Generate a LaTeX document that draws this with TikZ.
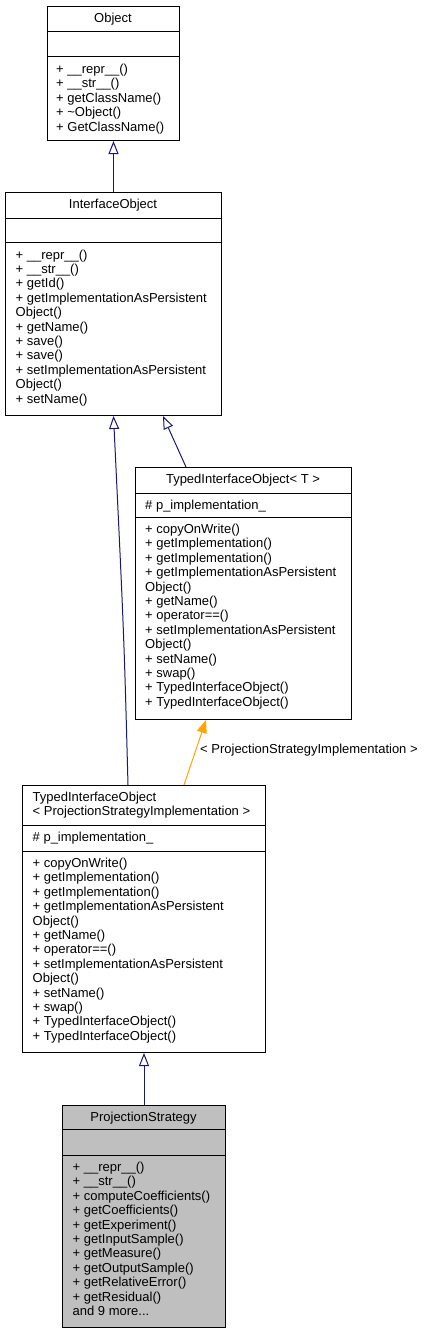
\documentclass[tikz,border=0pt]{standalone}
\usepackage{fontspec}
\setmainfont{Liberation Sans}
\usepackage{tikz}
\usetikzlibrary{arrows.meta,calc}
\definecolor{umlNavy}{HTML}{191970}
\definecolor{umlOrange}{HTML}{FFA500}
\definecolor{umlGray}{HTML}{BFBFBF}
\newcommand{\umlfont}{\fontsize{13}{14.4}\selectfont}
\tikzset{
  classbox/.style={draw=black,line width=1pt,anchor=north west,inner sep=0pt},
  divider/.style={draw=black,line width=1pt},
  member/.style={anchor=base west,inner sep=0pt,font=\umlfont},
  title/.style={anchor=base,inner sep=0pt,font=\umlfont},
  inherit/.style={-{Triangle[open,length=13pt,width=10pt]},line width=1pt,umlNavy},
  bind/.style={-{Triangle[length=13pt,width=10pt]},line width=1pt,umlOrange}
}
\begin{document}
\begin{tikzpicture}[x=1pt,y=-1pt]
  \useasboundingbox (0,0) rectangle (427,1333);
  % Object
  \node[classbox,minimum width=132pt,minimum height=134pt] (obj) at (47,6) {};
  \draw[divider] ($(obj.north west)+(0,25)$) -- ($(obj.north east)+(0,25)$);
  \draw[divider] ($(obj.north west)+(0,50)$) -- ($(obj.north east)+(0,50)$);
  \node[title] (obj-t) at (113,22) {Object};
  \foreach \m [count=\i from 0] in {+ \_\_repr\_\_(), + \_\_str\_\_(), + getClassName(),
    + \textasciitilde Object(), + GetClassName()}
    \node[member] (obj-m\i) at (56,{73.5+14.4*\i}) {\m};
  % InterfaceObject
  \node[classbox,minimum width=216pt,minimum height=223pt] (iobj) at (5,192) {};
  \draw[divider] ($(iobj.north west)+(0,26)$) -- ($(iobj.north east)+(0,26)$);
  \draw[divider] ($(iobj.north west)+(0,50)$) -- ($(iobj.north east)+(0,50)$);
  \node[title] (iobj-t) at (113,208.5) {InterfaceObject};
  \foreach \m [count=\i from 0] in {+ \_\_repr\_\_(), + \_\_str\_\_(), + getId(),
    + getImplementationAsPersistent, Object(), + getName(), + save(), + save(),
    + setImplementationAsPersistent, Object(), + setName()}
    \node[member] (iobj-m\i) at (15.5,{259+14.4*\i}) {\m};
  % TypedInterfaceObject< T >
  \node[classbox,minimum width=216pt,minimum height=252pt] (tiot) at (135,467) {};
  \draw[divider] ($(tiot.north west)+(0,26)$) -- ($(tiot.north east)+(0,26)$);
  \draw[divider] ($(tiot.north west)+(0,50)$) -- ($(tiot.north east)+(0,50)$);
  \node[title] (tiot-t) at (243,483.5) {TypedInterfaceObject< T >};
  \node[member] (tiot-a) at (145,509) {\# p\_implementation\_};
  \foreach \m [count=\i from 0] in {+ copyOnWrite(), + getImplementation(),
    + getImplementation(), + getImplementationAsPersistent, Object(), + getName(),
    + operator==(), + setImplementationAsPersistent, Object(), + setName(), + swap(),
    + TypedInterfaceObject(), + TypedInterfaceObject()}
    \node[member] (tiot-m\i) at (145,{533.5+14.4*\i}) {\m};
  % TypedInterfaceObject< ProjectionStrategyImplementation >
  \node[classbox,minimum width=243pt,minimum height=267pt] (tiop) at (22,785) {};
  \draw[divider] ($(tiop.north west)+(0,40)$) -- ($(tiop.north east)+(0,40)$);
  \draw[divider] ($(tiop.north west)+(0,66)$) -- ($(tiop.north east)+(0,66)$);
  \node[member] (tiop-t1) at (32.5,801) {TypedInterfaceObject};
  \node[member] (tiop-t2) at (32.5,815.4) {< ProjectionStrategyImplementation >};
  \node[member] (tiop-a) at (32.5,841) {\# p\_implementation\_};
  \foreach \m [count=\i from 0] in {+ copyOnWrite(), + getImplementation(),
    + getImplementation(), + getImplementationAsPersistent, Object(), + getName(),
    + operator==(), + setImplementationAsPersistent, Object(), + setName(), + swap(),
    + TypedInterfaceObject(), + TypedInterfaceObject()}
    \node[member] (tiop-m\i) at (32.5,{867.5+14.4*\i}) {\m};
  % ProjectionStrategy
  \node[classbox,fill=umlGray,minimum width=163pt,minimum height=222pt] (pstrat) at (62,1105) {};
  \draw[divider] ($(pstrat.north west)+(0,24)$) -- ($(pstrat.north east)+(0,24)$);
  \draw[divider] ($(pstrat.north west)+(0,50)$) -- ($(pstrat.north east)+(0,50)$);
  \node[title] (pstrat-t) at (143.5,1121.5) {ProjectionStrategy};
  \foreach \m [count=\i from 0] in {+ \_\_repr\_\_(), + \_\_str\_\_(),
    + computeCoefficients(), + getCoefficients(), + getExperiment(), + getInputSample(),
    + getMeasure(), + getOutputSample(), + getRelativeError(), + getResidual(),
    {and 9 more.{}.{}.}}
    \node[member] (pstrat-m\i) at (72.5,{1171.5+14.4*\i}) {\m};
  % inheritance
  \draw[inherit] (iobj.north) -- (obj.south);
  \draw[inherit] ($(tiot.north west)+(51,0)$) -- ($(iobj.south west)+(158,0)$);
  \draw[inherit] ($(tiop.north west)+(106,0)$) .. controls ($(tiop.north west)+(102,-150)$) .. (iobj.south);
  \draw[bind] ($(tiop.north west)+(162,0)$) -- ($(tiot.south west)+(71,0)$);
  \node[member] (bind-l) at (200,753) {< ProjectionStrategyImplementation >};
  \draw[inherit] (pstrat.north) -- (tiop.south);
\end{tikzpicture}
\end{document}
